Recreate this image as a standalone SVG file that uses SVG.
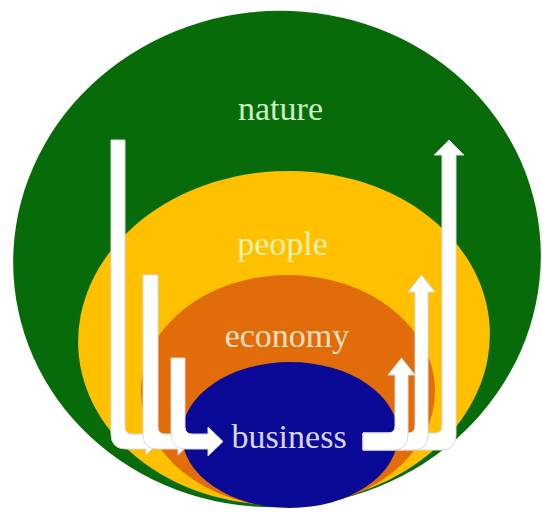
<svg xmlns="http://www.w3.org/2000/svg" width="542" height="512" viewBox="0 0 542 512">
<style>
.lbl{font-family:"Liberation Serif","Times New Roman",serif;font-size:34px;text-anchor:middle}
.arr{fill:#ffffff;stroke:#d8d8d8;stroke-width:1;stroke-linejoin:round}
</style>
<rect width="542" height="512" fill="#ffffff"/>
<g id="nature">
<ellipse cx="277" cy="259" rx="264" ry="248" transform="rotate(-6 277 259)" fill="#086b0a"/>
<text class="lbl" x="280.5" y="120" fill="#c8f0c0">nature</text>
</g>
<g id="people">
<ellipse cx="284" cy="338" rx="206" ry="167" transform="rotate(-3 284 338)" fill="#ffc000"/>
<text class="lbl" x="282.5" y="255" fill="#fff0b0">people</text>
</g>
<g id="economy">
<ellipse cx="288" cy="391" rx="147" ry="116" fill="#e36c0a"/>
<text class="lbl" x="287" y="347" font-size="33" fill="#fde0c0">economy</text>
</g>
<g id="business">
<ellipse cx="290" cy="435" rx="108" ry="73" fill="#0a0a96"/>
<text class="lbl" x="289" y="448" fill="#d6d6ff">business</text>
</g>
<g id="connectors">
<path class="arr" d="M111,140 H125 V427 Q125,434 132,434 H146 V428 L160,441.5 L146,455 V449 H126 Q111,449 111,434 Z"/>
<path class="arr" d="M143,275 H158 V427 Q158,434 165,434 H178 V428 L192,441.5 L178,455 V449 H158 Q143,449 143,434 Z"/>
<path class="arr" d="M171,358 H185 V427 Q185,434 192,434 H208 V427 L223,441.5 L208,456 V449 H186 Q171,449 171,434 Z"/>
<path class="arr" d="M363,433 H435 Q442,433 442,426 V155 H434 L449,140 L464,155 H456 V435 Q456,450 441,450 H363 Z"/>
<path class="arr" d="M363,433 H408 Q415,433 415,426 V292 H408 L421.5,275 L435,292 H428 V435 Q428,450 413,450 H363 Z"/>
<path class="arr" d="M363,433 H388 Q395,433 395,426 V375 H388 L401.5,358 L415,375 H408 V435 Q408,450 393,450 H363 Z"/>
</g>
</svg>
